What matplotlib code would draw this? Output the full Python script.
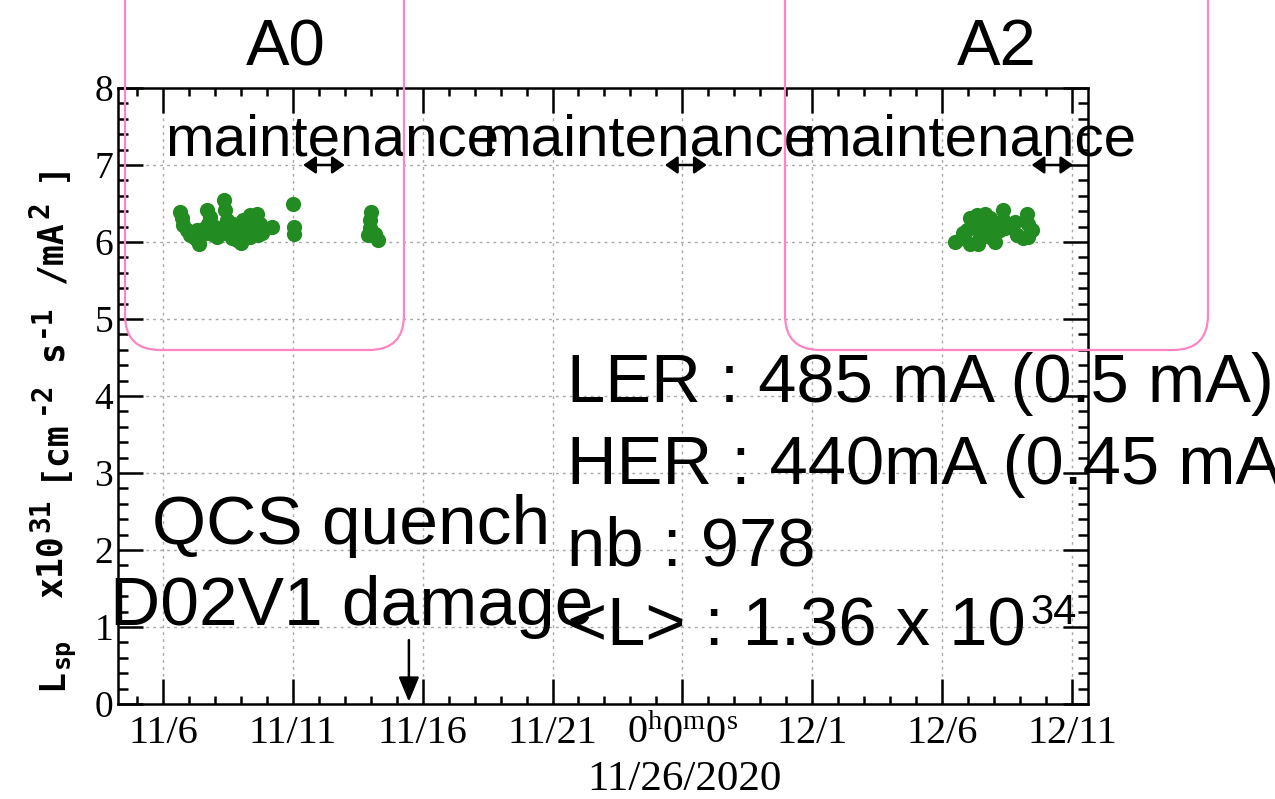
import numpy as np
import matplotlib
matplotlib.use("Agg")
import matplotlib.pyplot as plt
from matplotlib.patches import FancyBboxPatch
from matplotlib.transforms import IdentityTransform

# days relative to 11/26/2020 00:00, specific luminosity [x1e31 cm^-2 s^-1 / mA^2]
a0_days = [-19.36, -19.28, -19.22, -19.09, -18.96, -18.77, -18.60, -18.70, -18.45,
           -18.29, -18.25, -18.19, -18.00, -17.93, -17.81, -17.65, -17.61, -17.55,
           -17.45, -17.35, -17.29, -17.16, -17.10, -17.01, -16.91, -16.84, -16.65,
           -16.65, -16.52, -16.39, -16.33, -16.26, -15.81,
           -18.85, -18.40, -18.10, -17.70, -17.25, -16.75, -16.45, -16.20,
           -15.01, -14.96, -14.96,
           -12.00, -12.03, -12.03, -12.09, -11.84, -11.71]
a0_lsp = [6.39, 6.31, 6.22, 6.16, 6.09, 6.05, 5.98, 6.16, 6.11,
          6.42, 6.24, 6.33, 6.20, 6.07, 6.16, 6.55, 6.42, 6.29,
          6.16, 6.05, 6.24, 6.03, 6.13, 5.99, 6.29, 6.13, 6.35,
          6.07, 6.20, 6.37, 6.09, 6.24, 6.19,
          6.10, 6.18, 6.10, 6.12, 6.14, 6.20, 6.15, 6.12,
          6.50, 6.20, 6.11,
          6.39, 6.29, 6.18, 6.09, 6.11, 6.03]

a2_days = [10.49, 10.75, 11.07, 10.95, 11.07, 11.27, 11.46, 11.39, 11.33, 11.65,
           11.72, 11.84, 11.84, 12.04, 12.10, 12.23, 12.36, 12.36, 12.42,
           12.81, 12.87, 13.13, 13.26, 13.32, 13.45, 13.32,
           10.80, 11.55, 12.00, 12.60]
a2_lsp = [6.00, 6.05, 5.98, 6.16, 6.31, 6.20, 6.07, 5.98, 6.35, 6.37,
          6.22, 6.07, 6.31, 6.00, 6.24, 6.16, 6.42, 6.29, 6.18,
          6.26, 6.09, 6.05, 6.37, 6.24, 6.16, 6.07,
          6.12, 6.14, 6.12, 6.20]

tick_days = [-20, -15, -10, -5, 0, 5, 10, 15]
tick_labels = ["11/6", "11/11", "11/16", "11/21", r"$\mathrm{0^{h}0^{m}0^{s}}$",
               "12/1", "12/6", "12/11"]

# maintenance periods (double arrows) and QCS quench day
maint_start = [-14.6, -0.67, 13.45]
maint_end = [-13.0, 0.94, 15.05]
quench_day = -10.53

plt.rcParams["mathtext.fontset"] = "custom"
plt.rcParams["mathtext.rm"] = "Liberation Serif"
plt.rcParams["mathtext.it"] = "Liberation Serif:italic"
plt.rcParams["mathtext.bf"] = "Liberation Serif:bold"

W, H = 1275, 799
fig = plt.figure(figsize=(W / 100, H / 100), dpi=100)
ax = fig.add_axes([117.5 / W, 1 - 704 / H, 970 / W, 616 / H])

ax.scatter(a0_days, a0_lsp, s=120, color="#228b22", lw=0, zorder=3)
ax.scatter(a2_days, a2_lsp, s=120, color="#228b22", lw=0, zorder=3)

ax.set_xlim(-21.75, 15.6)
ax.set_ylim(0, 8)
ax.set_xticks(tick_days)
ax.set_xticklabels(tick_labels)
ax.set_xticks(np.arange(-21, 16, 1), minor=True)
ax.set_yticks(np.arange(0, 9, 1))
ax.set_yticks(np.arange(0, 8.01, 0.2), minor=True)

serif = "Liberation Serif"
for lab in ax.get_xticklabels():
    lab.set_family(serif)
    lab.set_fontsize(29)
for lab in ax.get_yticklabels():
    lab.set_family(serif)
    lab.set_fontsize(27)

ax.tick_params(which="both", direction="in", top=True, right=True, width=1.8, color="black")
ax.tick_params(axis="x", which="major", length=18, pad=8)
ax.tick_params(axis="x", which="minor", length=5.5)
ax.tick_params(axis="y", which="major", length=18, pad=3)
ax.tick_params(axis="y", which="minor", length=7.5)
for sp in ax.spines.values():
    sp.set_linewidth(1.8)
ax.grid(which="major", color="#a8a8a8", linestyle=(0, (2, 3)), linewidth=1.0)
ax.set_axisbelow(True)


def ftext(px, py, s, **kw):
    return fig.text(px / W, 1 - py / H, s, **kw)


renderer = fig.canvas.get_renderer()

# y label, built piece by piece: (text, size, baseline shift px, gap before px)
ylab_pieces = [("L", 25, 0, 0), ("sp", 18, -7, 1), ("x10", 25, 0, 40), ("31", 20, 13, 4),
               ("[cm", 25, 0, 18), ("-2", 20, 13, 3), ("s", 25, 0, 20), ("-1", 20, 13, 3),
               ("/mA", 25, 0, 20), ("2", 20, 13, 3), ("]", 25, 0, 20)]
ycur = 690
for s, size, shift, gap in ylab_pieces:
    ycur -= gap
    t = ftext(62 - shift, ycur, s, rotation=90, rotation_mode="anchor", ha="left",
              va="baseline", family="DejaVu Sans Mono", weight="bold", fontsize=size)
    ycur -= t.get_window_extent(renderer).height

ftext(684, 790, "11/26/2020", family=serif, fontsize=31, ha="center", va="baseline")

# maintenance arrows
for x0, x1 in zip(maint_start, maint_end):
    ax.annotate("", xy=(x1, 7.0), xytext=(x0, 7.0),
                arrowprops=dict(arrowstyle="<|-|>,head_length=0.5,head_width=0.35",
                                color="black", lw=1.8, mutation_scale=15,
                                shrinkA=0, shrinkB=0), zorder=5)
ax.annotate("", xy=(quench_day, 0.03), xytext=(quench_day, 0.83),
            arrowprops=dict(arrowstyle="-|>,head_length=0.6,head_width=0.25",
                            color="black", lw=1.8, mutation_scale=25,
                            shrinkA=0, shrinkB=0), zorder=5)

# overlay annotations
sans = "Liberation Sans"
pink = "#ff84c2"
for l, r in [(125, 404), (785, 1208)]:
    box = FancyBboxPatch((l, H - 350), r - l, 500, boxstyle="round,pad=0,rounding_size=35",
                         transform=IdentityTransform(), fill=False, edgecolor=pink,
                         linewidth=1.6, zorder=10)
    fig.add_artist(box)

ftext(286, 65, "A0", family=sans, fontsize=47, ha="center", va="baseline")
ftext(997, 65, "A2", family=sans, fontsize=47, ha="center", va="baseline")
for x in [165, 482, 802]:
    ftext(x, 155, "maintenance", family=sans, fontsize=42, ha="left", va="baseline")

ftext(567, 402, "LER : 485 mA (0.5 mA)", family=sans, fontsize=49.5, va="baseline")
ftext(567, 484, "HER : 440mA (0.45 mA)", family=sans, fontsize=49.5, va="baseline")
ftext(567, 565, "nb : 978", family=sans, fontsize=49.5, va="baseline")
lum = ftext(567, 646, "<L> : 1.36 x 10", family=sans, fontsize=49.5, va="baseline")
ftext(152, 544, "QCS quench", family=sans, fontsize=50, va="baseline")
ftext(110, 625, "D02V1 damage", family=sans, fontsize=50, va="baseline")

# superscript right after the "10"
x_end = lum.get_window_extent(renderer).x1
fig.text((x_end + 5) / W, 1 - 624 / H, "34", family=sans, fontsize=30, va="baseline")

fig.savefig("out.png", dpi=100)
